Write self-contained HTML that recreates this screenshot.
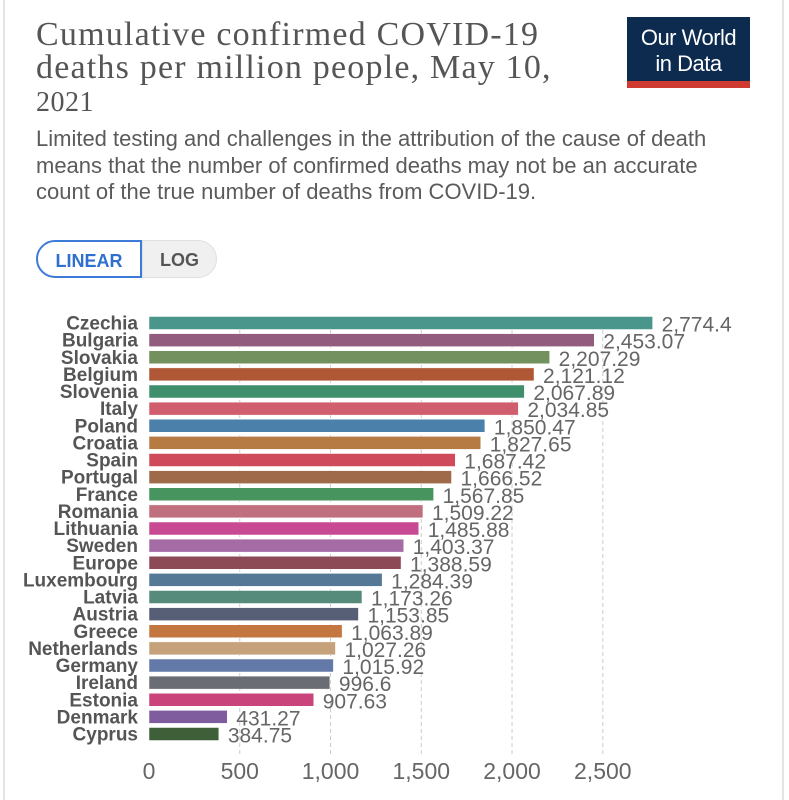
<!DOCTYPE html>
<html><head><meta charset="utf-8"><style>
body{margin:0;width:789px;height:800px;background:#fff;overflow:hidden;font-family:"Liberation Sans",sans-serif;position:relative}
.frame{position:absolute;left:3px;top:0;width:781px;height:800px;border-left:2px solid #e4e4e4;border-right:2px solid #e4e4e4;box-sizing:border-box}
.title{position:absolute;left:36px;top:18px;width:600px;font-family:"Liberation Serif",serif;font-size:34px;line-height:33px;color:#555;letter-spacing:1.2px;white-space:nowrap}
.title .yr{font-size:28px;letter-spacing:0.5px}
.sub{position:absolute;left:36px;top:126px;width:740px;font-size:22px;line-height:26.5px;color:#5b5b5b;letter-spacing:0px;white-space:nowrap}
.logo{position:absolute;left:627px;top:17px;width:123px;height:71px;background:#0d2a4f;color:#fff;text-align:center;font-size:22px;line-height:26px;box-sizing:border-box;padding-top:8px;border-bottom:7px solid #cf3b30;letter-spacing:-0.5px}
.btn{position:absolute;top:240px;height:38px;line-height:38px;font-size:18px;font-weight:bold;text-align:center;box-sizing:border-box}
.lin{left:36px;width:106px;border:2px solid #3e7bd9;border-radius:19px 0 0 19px;color:#2f6fd0}
.log{left:142px;width:75px;background:#f0f0f0;border:1px solid #e0e0e0;border-radius:0 19px 19px 0;color:#555}
</style></head><body>
<div class="frame"></div>
<div class="title">Cumulative confirmed COVID-19<br>deaths per million people, May 10,<br><span class="yr">2021</span></div>
<div class="sub">Limited testing and challenges in the attribution of the cause of death<br>means that the number of confirmed deaths may not be an accurate<br>count of the true number of deaths from COVID-19.</div>
<div class="logo">Our World<br>in Data</div>
<div class="btn lin">LINEAR</div>
<div class="btn log">LOG</div>
<svg id="chart" width="789" height="800" style="position:absolute;left:0;top:0"></svg>
<script>
const countries=["Czechia","Bulgaria","Slovakia","Belgium","Slovenia","Italy","Poland","Croatia","Spain","Portugal","France","Romania","Lithuania","Sweden","Europe","Luxembourg","Latvia","Austria","Greece","Netherlands","Germany","Ireland","Estonia","Denmark","Cyprus"];
const values=[2774.4,2453.07,2207.29,2121.12,2067.89,2034.85,1850.47,1827.65,1687.42,1666.52,1567.85,1509.22,1485.88,1403.37,1388.59,1284.39,1173.26,1153.85,1063.89,1027.26,1015.92,996.6,907.63,431.27,384.75];
const labels=["2,774.4","2,453.07","2,207.29","2,121.12","2,067.89","2,034.85","1,850.47","1,827.65","1,687.42","1,666.52","1,567.85","1,509.22","1,485.88","1,403.37","1,388.59","1,284.39","1,173.26","1,153.85","1,063.89","1,027.26","1,015.92","996.6","907.63","431.27","384.75"];
const colors=["#4a968c","#925c7e","#73905f","#b05735","#3f8f6c","#d05e6d","#4a80a9","#b67b43","#cf4b5b","#9e6a4a","#48945f","#c06f7e","#c84a92","#a46ba4","#8c4a56","#557897","#568a7a","#565f75","#c47641","#c5a27a","#6379a8","#6b6d74","#c9447a","#7e5c9e","#3f5f38"];
const ticks=[0,500,1000,1500,2000,2500];
const tickLabels=["0","500","1,000","1,500","2,000","2,500"];
const NS="http://www.w3.org/2000/svg";
const svg=document.getElementById('chart');
const x=v=>149+v*(453.8/2500);
const y=i=>323+i*17.125;
function mk(t,a){const e=document.createElementNS(NS,t);for(const k in a)e.setAttribute(k,a[k]);svg.appendChild(e);return e;}
ticks.forEach((t,i)=>{
  if(t>0){const g=mk('line',{x1:x(t),x2:x(t),y1:316,y2:755,stroke:'#ccc','stroke-dasharray':'4,3'});
  
  }
  const tl=mk('text',{x:x(t),y:779,'text-anchor':'middle','font-size':23,fill:'#666','font-family':'Liberation Sans, sans-serif'});
  tl.textContent=tickLabels[i];
  
  
});
countries.forEach((c,i)=>{
  const cy=y(i);
  const b=mk('rect',{x:x(0),y:cy-6.5,width:x(values[i])-x(0),height:13,fill:colors[i],stroke:'#fff','stroke-width':0.5});
  
  
  const l=mk('text',{x:138,y:cy+6.5,'text-anchor':'end','font-size':19,'font-weight':'bold',fill:'#555','font-family':'Liberation Sans, sans-serif'});
  l.textContent=c;
  
  
  const v=mk('text',{x:x(values[i])+9,y:cy+8.5,'font-size':21,fill:'#666','font-family':'Liberation Sans, sans-serif'});
  v.textContent=labels[i];
  
  
});
</script>
</body></html>
